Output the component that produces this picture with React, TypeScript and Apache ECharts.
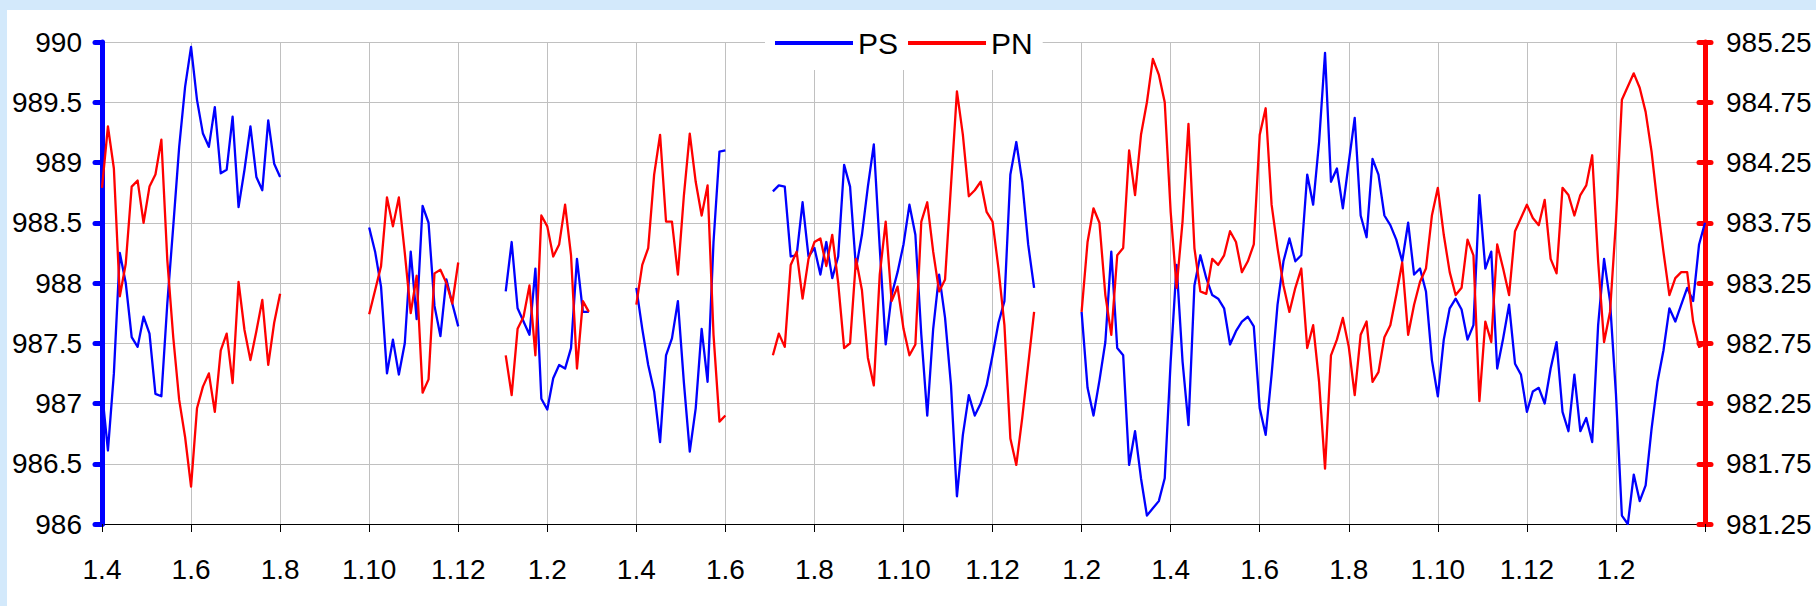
import React, { useEffect, useRef } from 'react';
import * as echarts from 'echarts';

// ---- tick labels / categories ----
const xTickLabels = [
  '1.4', '1.6', '1.8', '1.10', '1.12', '1.2',
  '1.4', '1.6', '1.8', '1.10', '1.12', '1.2',
  '1.4', '1.6', '1.8', '1.10', '1.12', '1.2',
];
const pointsPerTick = 15;
const pointCount = xTickLabels.length * pointsPerTick + 1;
const categories = Array.from({ length: pointCount }, (_, i) => String(i));

// start index of each continuous run of readings (gaps between them are missing data)
const segmentStarts = [0, 45, 68, 90, 113, 165];

// ---- PS (left axis) ----
const psA = [987.1, 986.61, 987.25, 988.25, 988.0, 987.55, 987.47, 987.72, 987.58, 987.08, 987.06, 987.83, 988.47, 989.13, 989.63, 989.96, 989.52, 989.24, 989.13, 989.46, 988.91, 988.94, 989.38, 988.63, 988.94, 989.3, 988.88, 988.77, 989.35, 988.99, 988.88];
const psB = [988.46, 988.26, 987.97, 987.25, 987.53, 987.24, 987.5, 988.26, 987.7, 988.64, 988.5, 987.81, 987.56, 988.03, 987.83, 987.64];
const psC = [987.93, 988.34, 987.79, 987.68, 987.57, 988.12, 987.04, 986.95, 987.21, 987.32, 987.29, 987.46, 988.2, 987.76, 987.76];
const psD = [987.96, 987.62, 987.32, 987.1, 986.68, 987.4, 987.54, 987.85, 987.18, 986.6, 986.96, 987.62, 987.18, 988.34, 989.09, 989.1];
const psE = [988.76, 988.81, 988.8, 988.22, 988.23, 988.67, 988.22, 988.29, 988.07, 988.34, 988.04, 988.22, 988.98, 988.8, 988.12, 988.4, 988.8, 989.15, 988.29, 987.49, 987.9, 988.09, 988.32, 988.65, 988.4, 987.57, 986.9, 987.62, 988.07, 987.71, 987.15, 986.23, 986.74, 987.07, 986.9, 987.0, 987.15, 987.4, 987.67, 987.85, 988.9, 989.17, 988.84, 988.32, 987.96];
const psF = [987.76, 987.13, 986.9, 987.19, 987.51, 988.26, 987.46, 987.4, 986.49, 986.77, 986.38, 986.07, 986.13, 986.19, 986.38, 987.35, 988.15, 987.35, 986.82, 987.98, 988.23, 988.04, 987.9, 987.87, 987.79, 987.49, 987.6, 987.68, 987.72, 987.64, 986.96, 986.74, 987.24, 987.82, 988.18, 988.37, 988.18, 988.23, 988.9, 988.65, 989.17, 989.91, 988.84, 988.95, 988.62, 989.0, 989.37, 988.56, 988.38, 989.03, 988.9, 988.56, 988.48, 988.36, 988.18, 988.5, 988.07, 988.12, 987.93, 987.36, 987.06, 987.53, 987.79, 987.87, 987.78, 987.53, 987.65, 988.73, 988.12, 988.26, 987.29, 987.54, 987.82, 987.33, 987.24, 986.93, 987.1, 987.13, 987.0, 987.29, 987.51, 986.93, 986.77, 987.24, 986.77, 986.88, 986.68, 987.65, 988.2, 987.85, 987.08, 986.07, 986.0, 986.41, 986.19, 986.32, 986.79, 987.18, 987.44, 987.79, 987.68, 987.82, 987.96, 987.85, 988.32, 988.5];

// ---- PN (right axis) ----
const pnA = [984.04, 984.55, 984.2, 983.14, 983.41, 984.05, 984.1, 983.75, 984.05, 984.15, 984.44, 983.44, 982.8, 982.28, 981.97, 981.56, 982.21, 982.39, 982.5, 982.18, 982.69, 982.83, 982.42, 983.26, 982.86, 982.61, 982.85, 983.11, 982.57, 982.92, 983.16];
const pnB = [982.99, 983.19, 983.39, 983.96, 983.72, 983.96, 983.5, 983.0, 983.31, 982.34, 982.45, 983.33, 983.36, 983.25, 983.08, 983.42];
const pnC = [982.65, 982.32, 982.87, 982.97, 983.23, 982.65, 983.81, 983.72, 983.47, 983.57, 983.9, 983.48, 982.54, 983.1, 983.01];
const pnD = [983.07, 983.4, 983.54, 984.15, 984.48, 983.76, 983.76, 983.32, 983.97, 984.49, 984.09, 983.81, 984.06, 982.82, 982.1, 982.15];
const pnE = [982.65, 982.83, 982.72, 983.4, 983.51, 983.12, 983.45, 983.59, 983.62, 983.39, 983.65, 983.25, 982.71, 982.75, 983.45, 983.19, 982.63, 982.4, 983.32, 983.76, 983.1, 983.22, 982.87, 982.65, 982.74, 983.76, 983.92, 983.51, 983.18, 983.28, 984.06, 984.84, 984.48, 983.97, 984.02, 984.09, 983.84, 983.76, 983.37, 982.9, 981.96, 981.74, 982.13, 982.57, 983.01];
const pnF = [983.01, 983.59, 983.87, 983.75, 983.15, 982.82, 983.48, 983.54, 984.35, 983.98, 984.48, 984.75, 985.11, 984.98, 984.75, 983.84, 983.21, 983.76, 984.57, 983.54, 983.18, 983.16, 983.45, 983.4, 983.48, 983.68, 983.59, 983.34, 983.43, 983.57, 984.48, 984.7, 983.9, 983.54, 983.23, 983.01, 983.21, 983.37, 982.71, 982.9, 982.43, 981.71, 982.65, 982.78, 982.96, 982.72, 982.32, 982.82, 982.93, 982.43, 982.51, 982.8, 982.9, 983.15, 983.42, 982.82, 983.07, 983.26, 983.37, 983.81, 984.04, 983.65, 983.34, 983.15, 983.21, 983.61, 983.48, 982.27, 982.93, 982.76, 983.57, 983.37, 983.15, 983.68, 983.79, 983.9, 983.79, 983.73, 983.94, 983.45, 983.33, 984.04, 983.98, 983.81, 983.98, 984.06, 984.31, 983.43, 982.76, 983.01, 983.76, 984.77, 984.88, 984.99, 984.87, 984.67, 984.34, 983.9, 983.51, 983.15, 983.29, 983.34, 983.34, 982.93, 982.72, 982.74];

const psSegments = [psA, psB, psC, psD, psE, psF];
const pnSegments = [pnA, pnB, pnC, pnD, pnE, pnF];

function buildSeries(segs: number[][]): (number | null)[] {
  const out: (number | null)[] = new Array(pointCount).fill(null);
  segs.forEach((seg, k) => {
    seg.forEach((v, j) => {
      out[segmentStarts[k] + j] = v;
    });
  });
  return out;
}

const BLUE = '#0000ff';
const RED = '#ff0000';
const FONT = 'Liberation Sans, Arial, sans-serif';

export default function App() {
  const ref = useRef<HTMLDivElement>(null);

  useEffect(() => {
    if (!ref.current) return;
    const chart = echarts.init(ref.current, undefined, { renderer: 'svg' });
    const last = pointCount - 1;
    chart.setOption({
      animation: false,
      backgroundColor: '#ffffff',
      color: [BLUE, RED],
      textStyle: { fontFamily: FONT },
      grid: { left: 95, right: 111, top: 32, bottom: 82, containLabel: false },
      legend: {
        data: ['PS', 'PN'],
        left: 758,
        top: 10,
        padding: [8, 10, 12, 10],
        backgroundColor: '#ffffff',
        icon: 'rect',
        itemWidth: 78,
        itemHeight: 4,
        itemGap: 10,
        textStyle: { fontSize: 30, color: '#000', fontFamily: FONT, padding: [0, 0, 10, 0] },
      },
      xAxis: {
        type: 'category',
        data: categories,
        boundaryGap: false,
        axisLine: { show: true, lineStyle: { color: '#000', width: 1 } },
        axisTick: {
          show: true,
          length: 8,
          interval: (index: number) => index % pointsPerTick === 0 || index === last,
          lineStyle: { color: '#000', width: 1 },
        },
        axisLabel: {
          show: true,
          interval: (index: number) => index % pointsPerTick === 0 && index < last,
          formatter: (_v: string, index: number) => xTickLabels[Math.floor(index / pointsPerTick)] ?? '',
          fontSize: 28,
          color: '#000',
          fontFamily: FONT,
          margin: 31,
        },
        splitLine: {
          show: true,
          interval: (index: number) => index % pointsPerTick === 0 || index === last,
          lineStyle: { color: '#c0c0c0', width: 1 },
        },
      },
      yAxis: [
        {
          type: 'value',
          position: 'left',
          min: 986,
          max: 990,
          interval: 0.5,
          axisLine: { show: true, lineStyle: { color: BLUE, width: 5 } },
          axisTick: { show: true, length: 7, lineStyle: { color: BLUE, width: 5, cap: 'round' } },
          axisLabel: { fontSize: 28, color: '#000', fontFamily: FONT, margin: 20 },
          splitLine: { show: true, lineStyle: { color: '#c0c0c0', width: 1 } },
        },
        {
          type: 'value',
          position: 'right',
          min: 981.25,
          max: 985.25,
          interval: 0.5,
          axisLine: { show: true, lineStyle: { color: RED, width: 5 } },
          axisTick: { show: true, length: 6, lineStyle: { color: RED, width: 5, cap: 'round' } },
          axisLabel: { fontSize: 28, color: '#000', fontFamily: FONT, margin: 21 },
          splitLine: { show: false },
        },
        {
          type: 'value',
          position: 'right',
          min: 981.25,
          max: 985.25,
          interval: 0.5,
          axisLine: { show: false },
          axisTick: { show: true, inside: true, length: 6, lineStyle: { color: RED, width: 5, cap: 'round' } },
          axisLabel: { show: false },
          splitLine: { show: false },
        },
      ],
      series: [
        {
          name: 'PS',
          type: 'line',
          yAxisIndex: 0,
          data: buildSeries(psSegments),
          showSymbol: false,
          symbol: 'none',
          connectNulls: false,
          itemStyle: { color: BLUE },
          lineStyle: { color: BLUE, width: 2.3, join: 'round' },
        },
        {
          name: 'PN',
          type: 'line',
          yAxisIndex: 1,
          data: buildSeries(pnSegments),
          showSymbol: false,
          symbol: 'none',
          connectNulls: false,
          itemStyle: { color: RED },
          lineStyle: { color: RED, width: 2.3, join: 'round' },
        },
      ],
    });
    return () => chart.dispose();
  }, []);

  return (
    <div
      style={{
        position: 'absolute',
        left: 0,
        top: 0,
        width: 1816,
        height: 606,
        background: '#d3e9fb',
      }}
    >
      <div
        ref={ref}
        style={{ position: 'absolute', left: 7, top: 10, width: 1809, height: 596, background: '#fff' }}
      />
    </div>
  );
}
